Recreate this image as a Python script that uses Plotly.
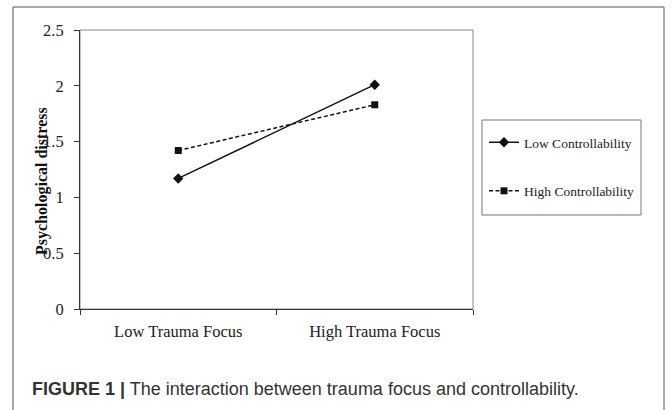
import plotly.graph_objects as go

categories = ["Low Trauma Focus", "High Trauma Focus"]
low_controllability = [1.17, 2.01]
high_controllability = [1.42, 1.83]
series_names = ["Low Controllability", "High Controllability"]

W, H = 672, 410
L, R, T, B = 80, 199, 30, 101
PW, PH = W - L - R, H - T - B


def px_x(px):
    return (px - L) / PW


def px_y(py):
    return (H - B - py) / PH


serif = "Liberation Serif, Times New Roman, serif"
sans = "Liberation Sans, Arial, Helvetica, sans-serif"

fig = go.Figure()
fig.add_trace(go.Scatter(
    x=categories, y=low_controllability, name=series_names[0],
    mode="lines+markers", legendgroup="a",
    line=dict(color="#111111", width=1.5, dash="solid"),
    marker=dict(symbol="diamond", size=8, color="#111111"),
))
fig.add_trace(go.Scatter(
    x=categories, y=high_controllability, name=series_names[1],
    mode="lines+markers", legendgroup="b",
    line=dict(color="#111111", width=1.5, dash="4px,2.5px"),
    marker=dict(symbol="square", size=7, color="#111111"),
))

fig.update_layout(
    width=W, height=H,
    margin=dict(l=L, r=R, t=T, b=B, pad=0),
    paper_bgcolor="white", plot_bgcolor="white",
    font=dict(family=serif, size=16, color="#222222"),
    showlegend=True,
    legend=dict(
        x=px_x(484), y=px_y(127), xanchor="left", yanchor="top",
        borderwidth=0, bgcolor="rgba(0,0,0,0)",
        font=dict(family=serif, size=13.5, color="#222222"),
        tracegroupgap=28, itemwidth=30,
    ),
    xaxis=dict(
        type="category", showgrid=False, zeroline=False,
        showline=True, linecolor="#333333", linewidth=1,
        ticks="outside", tickson="boundaries", ticklen=5, tickcolor="#333333",
        ticklabelstandoff=7,
        tickfont=dict(family=serif, size=16.5, color="#222222"),
        range=[-0.5, 1.5],
    ),
    yaxis=dict(
        range=[0, 2.5], dtick=0.5, tick0=0, showgrid=False, zeroline=False,
        showline=True, linecolor="#333333", linewidth=1,
        ticks="outside", ticklen=5, tickcolor="#333333",
        ticklabelstandoff=7,
        tickfont=dict(family=serif, size=16.5, color="#222222"),
    ),
    shapes=[
        # plot area frame (gray top/right)
        dict(type="rect", xref="paper", yref="paper", x0=0, y0=0, x1=1, y1=1,
             line=dict(color="#888888", width=1), layer="below"),
        # legend box
        dict(type="rect", xref="paper", yref="paper",
             x0=px_x(482), x1=px_x(641), y0=px_y(215), y1=px_y(120),
             line=dict(color="#777777", width=1), layer="below"),
        # outer figure frame
        dict(type="path", xref="paper", yref="paper",
             path=f"M {px_x(13)},{px_y(412)} L {px_x(13)},{px_y(7)} L {px_x(664)},{px_y(7)} L {px_x(664)},{px_y(412)}",
             line=dict(color="#555555", width=1)),
    ],
    annotations=[
        dict(text="<b>Psychological distress</b>", textangle=-90,
             xref="paper", yref="paper", x=px_x(42), y=px_y(181),
             xanchor="center", yanchor="middle", showarrow=False,
             font=dict(family=serif, size=16, color="#111111")),
        dict(text="<b>FIGURE 1 |</b> The interaction between trauma focus and controllability.",
             xref="paper", yref="paper", x=px_x(30), y=px_y(389),
             xanchor="left", yanchor="middle", showarrow=False,
             font=dict(family=sans, size=18, color="#333333")),
    ],
)

fig.write_html("out.html", config={"displayModeBar": False},
               post_script="document.body.style.margin='0';")
